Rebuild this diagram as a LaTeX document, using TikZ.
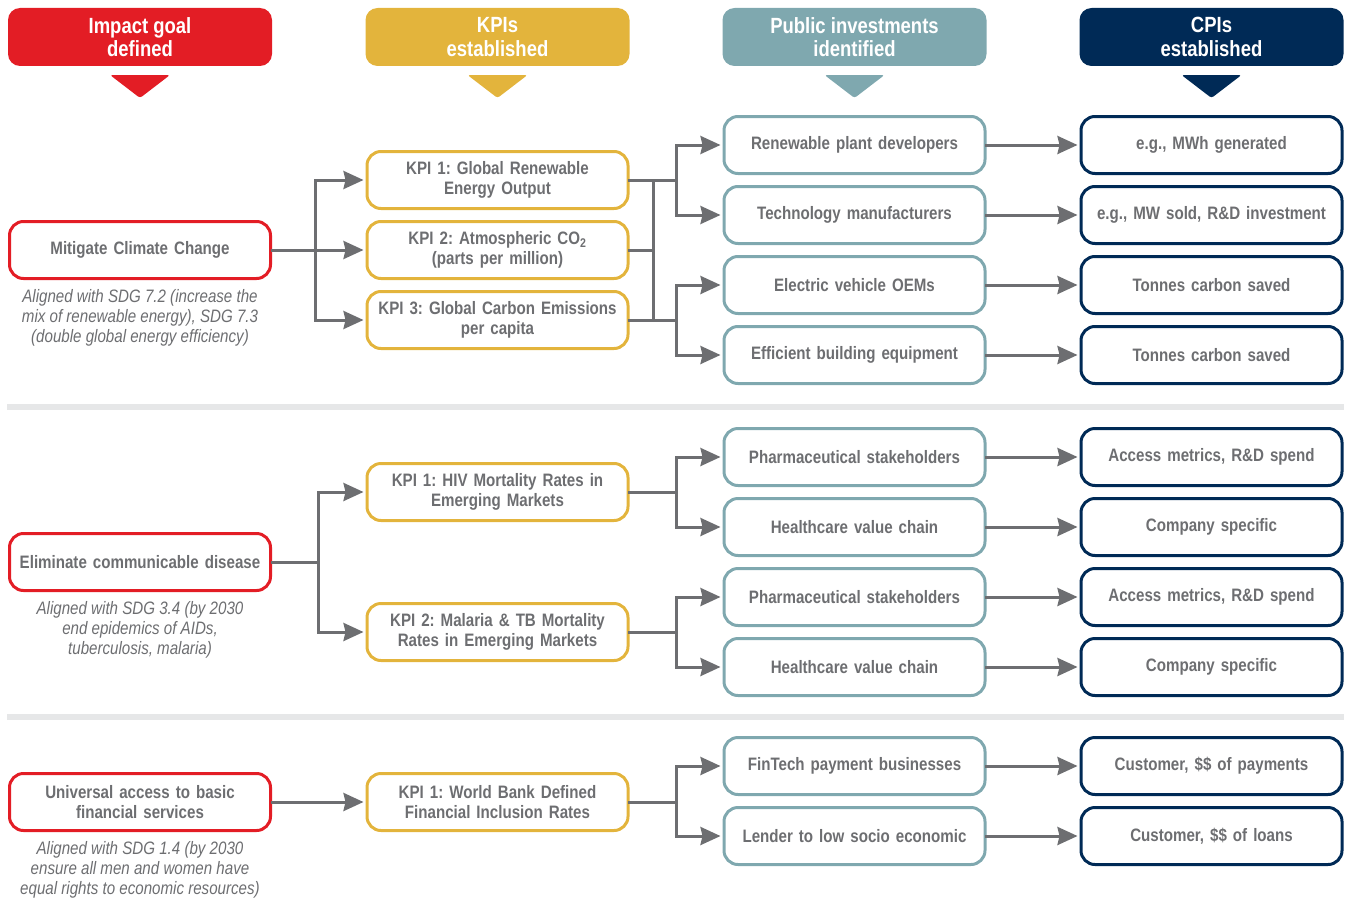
\documentclass[tikz,border=0pt]{standalone}
\usepackage{fontspec}
\setmainfont{Liberation Sans}[FakeStretch=0.84]
\usetikzlibrary{arrows.meta}
\frenchspacing

\definecolor{goalred}{HTML}{E31D25}
\definecolor{kpiyellow}{HTML}{E3B43C}
\definecolor{invteal}{HTML}{7FA8AF}
\definecolor{cpinavy}{HTML}{002A56}
\definecolor{txtgray}{HTML}{6D6E71}
\definecolor{linegray}{HTML}{6D6E71}
\definecolor{sepgray}{HTML}{E6E7E8}

\tikzset{
  header/.style={rounded corners=12pt, minimum width=264pt, minimum height=58pt,
    inner sep=0pt, text=white, align=center,
    font=\fontsize{22}{23.3}\selectfont\bfseries},
  pointer/.style={rounded corners=2.5pt},
  box/.style={draw, line width=3pt, rounded corners=14pt, minimum width=261pt,
    minimum height=57pt, inner sep=0pt, text width=250pt, align=center,
    text=txtgray, font=\fontsize{18}{20}\selectfont\bfseries},
  goalbox/.style={box, draw=goalred},
  kpibox/.style={box, draw=kpiyellow},
  invbox/.style={box, draw=invteal},
  cpibox/.style={box, draw=cpinavy},
  note/.style={align=center, text=txtgray, inner sep=0pt,
    font=\fontsize{18}{20}\selectfont\itshape},
  conn/.style={draw=linegray, line width=3pt, line cap=rect},
  arr/.style={conn, shorten >=2pt, -{Stealth[length=20pt, width=18pt, inset=2pt]}},
  separator/.style={draw=sepgray, line width=6pt}
}

\begin{document}
\begin{tikzpicture}[x=1pt, y=-1pt]
\useasboundingbox (0,0) rectangle (1351,899);

% ---- column headers and their pointers
\node[header, fill=goalred]   (h1) at (140,37)    {Impact goal\\defined};
\node[header, fill=kpiyellow] (h2) at (497.5,37)  {KPIs\\established};
\node[header, fill=invteal]   (h3) at (854.5,37)  {Public investments\\identified};
\node[header, fill=cpinavy]   (h4) at (1211.5,37) {CPIs\\established};
\foreach \cx/\col in {140/goalred, 497.5/kpiyellow, 854.5/invteal, 1211.5/cpinavy}
  \fill[pointer, \col] (\cx-30,75) -- (\cx+30,75) -- (\cx,98) -- cycle;

% ---- section separators
\draw[separator] (7,407) -- (1344,407);
\draw[separator] (7,717) -- (1344,717);

% ================= Climate =================
\node[goalbox] (g1) at (140,250) {Mitigate Climate Change};
\node[note] (n1) at (140,318) {Aligned with SDG 7.2 (increase the\\mix of renewable energy), SDG 7.3\\(double global energy efficiency)};

\node[kpibox] (k1) at (497.5,180) {KPI 1: Global Renewable\\Energy Output};
\node[kpibox] (k2) at (497.5,250) {KPI 2: Atmospheric CO\textsubscript{2}\\(parts per million)};
\node[kpibox] (k3) at (497.5,320) {KPI 3: Global Carbon Emissions\\per capita};

\node[invbox] (i1) at (854.5,145) {Renewable plant developers};
\node[invbox] (i2) at (854.5,215) {Technology manufacturers};
\node[invbox] (i3) at (854.5,285) {Electric vehicle OEMs};
\node[invbox] (i4) at (854.5,355) {Efficient building equipment};

\node[cpibox] (c1) at (1211.5,145) {e.g., MWh generated};
\node[cpibox] (c2) at (1211.5,215) {e.g., MW sold, R\&D investment};
\node[cpibox] (c3) at (1211.5,285) {Tonnes carbon saved};
\node[cpibox] (c4) at (1211.5,355) {Tonnes carbon saved};

\coordinate (ja) at (315,250);
\draw[conn] (g1.east) -- (ja);
\draw[conn] (ja |- k1.west) -- (ja |- k3.west);
\foreach \k in {k1,k2,k3} \draw[arr] (ja |- \k.west) -- (\k.west);

\coordinate (jb) at (653,250);
\coordinate (jc) at (676,180);
\coordinate (jd) at (676,320);
\draw[conn] (k1.east) -- (jc);
\draw[conn] (k2.east) -- (jb);
\draw[conn] (k3.east) -- (jd);
\draw[conn] (jb |- k1.east) -- (jb |- k3.east);
\draw[arr] (jc) |- (i1.west);
\draw[arr] (jc) |- (i2.west);
\draw[arr] (jd) |- (i3.west);
\draw[arr] (jd) |- (i4.west);

\foreach \i/\c in {i1/c1, i2/c2, i3/c3, i4/c4} \draw[arr] (\i.east) -- (\c.west);

% ================= Disease =================
\node[goalbox] (g2) at (140,562) {Eliminate communicable disease};
\node[note] (n2) at (140,630) {Aligned with SDG 3.4 (by 2030\\end epidemics of AIDs,\\tuberculosis, malaria)};

\node[kpibox] (k4) at (497.5,492) {KPI 1: HIV Mortality Rates in\\Emerging Markets};
\node[kpibox] (k5) at (497.5,632) {KPI 2: Malaria \& TB Mortality\\Rates in Emerging Markets};

\node[invbox] (i5) at (854.5,457) {Pharmaceutical stakeholders};
\node[invbox] (i6) at (854.5,527) {Healthcare value chain};
\node[invbox] (i7) at (854.5,597) {Pharmaceutical stakeholders};
\node[invbox] (i8) at (854.5,667) {Healthcare value chain};

\node[cpibox] (c5) at (1211.5,457) {Access metrics, R\&D spend};
\node[cpibox] (c6) at (1211.5,527) {Company specific};
\node[cpibox] (c7) at (1211.5,597) {Access metrics, R\&D spend};
\node[cpibox] (c8) at (1211.5,667) {Company specific};

\coordinate (je) at (318,562);
\draw[conn] (g2.east) -- (je);
\draw[arr] (je) |- (k4.west);
\draw[arr] (je) |- (k5.west);

\coordinate (jf) at (676,492);
\coordinate (jg) at (676,632);
\draw[conn] (k4.east) -- (jf);
\draw[conn] (k5.east) -- (jg);
\draw[arr] (jf) |- (i5.west);
\draw[arr] (jf) |- (i6.west);
\draw[arr] (jg) |- (i7.west);
\draw[arr] (jg) |- (i8.west);

\foreach \i/\c in {i5/c5, i6/c6, i7/c7, i8/c8} \draw[arr] (\i.east) -- (\c.west);

% ================= Finance =================
\node[goalbox] (g3) at (140,802) {Universal access to basic\\financial services};
\node[note] (n3) at (140,870) {Aligned with SDG 1.4 (by 2030\\ensure all men and women have\\equal rights to economic resources)};

\node[kpibox] (k6) at (497.5,802) {KPI 1: World Bank Defined\\Financial Inclusion Rates};

\node[invbox] (i9)  at (854.5,766) {FinTech payment businesses};
\node[invbox] (i10) at (854.5,836) {Lender to low socio economic};

\node[cpibox] (c9)  at (1211.5,766) {Customer, \$\$ of payments};
\node[cpibox] (c10) at (1211.5,836) {Customer, \$\$ of loans};

\draw[arr] (g3.east) -- (k6.west);
\coordinate (jh) at (676,802);
\draw[conn] (k6.east) -- (jh);
\draw[arr] (jh) |- (i9.west);
\draw[arr] (jh) |- (i10.west);

\foreach \i/\c in {i9/c9, i10/c10} \draw[arr] (\i.east) -- (\c.west);

\end{tikzpicture}
\end{document}
